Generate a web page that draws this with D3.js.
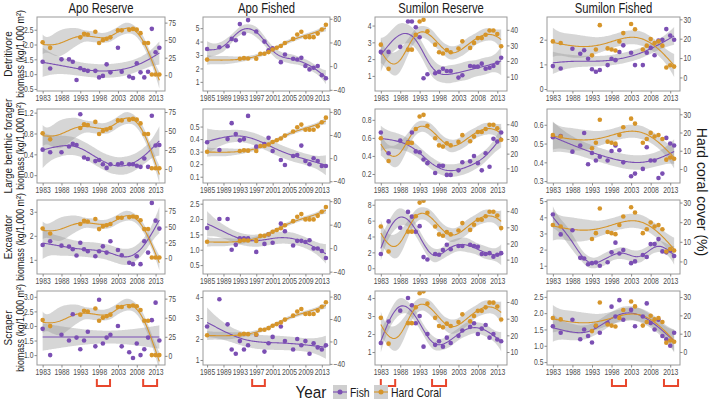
<!DOCTYPE html>
<html><head><meta charset="utf-8">
<script src="https://cdn.jsdelivr.net/npm/d3@7"></script>
<style>body{margin:0;background:#fff}svg{display:block}</style>
</head><body><svg id="c" width="709" height="401"></svg>
<script>
// ---------------- DATA ----------------
const siteNames = ["Apo Reserve","Apo Fished","Sumilon Reserve","Sumilon Fished"];
const guildLabels = ["Detritivore","Large benthic forager","Excavator","Scraper"];
const yearTicksStd = [1983,1988,1993,1998,2003,2008,2013];
const yearTicksApoF = [1985,1989,1993,1997,2001,2005,2009,2013];

const fishYears = [1983,1985,1988,1990,1991,1992,1993,1994,1995,1997,1998,1999,2000,2001,2003,2004,2006,2007,2008,2009,2010,2011,2012,2013,2014];
const fishYearsApoF = [1985,1988,1990,1991,1992,1993,1994,1995,1997,1999,2000,2001,2003,2004,2006,2007,2008,2009,2010,2011,2012,2013,2014];

const coralYearsApoR = [1983,1985,1993,1994,1995,1997,1998,1999,2000,2001,2003,2004,2006,2007,2008,2009,2010,2011,2012,2013,2014];
const coralApoR = [47,39,54,59,58,62,46,50,52,54,64,64,65,66,65,60,46,46,1,1,1];
const coralYearsApoF = [1985,1993,1994,1995,1997,1998,1999,2000,2001,2002,2003,2004,2006,2007,2008,2009,2010,2011,2012,2013,2014];
const coralApoF = [11,12.4,13.5,13,12.4,21,21,23.7,28,31,34,39,46,53.5,58,49,49,49,55,62,70];
const coralYearsSumR = [1983,1985,1990,1991,1992,1993,1994,1995,1997,1998,1999,2000,2001,2003,2004,2006,2007,2008,2009,2010,2011,2012,2013,2014];
const coralSumR = [30.5,15,27.3,27.3,36.8,45.3,46.4,39,30.5,25.6,24.8,27,25.6,28,32.6,28.4,31.6,34.7,34.7,36.8,39.6,39.6,37.3,29.5];
const coralYearsSumF = [1983,1985,1993,1994,1995,1997,1998,1999,2000,2001,2003,2004,2006,2007,2008,2009,2010,2011,2012,2013,2014];
const coralSumF = [18.6,17.8,11.4,14.4,27,15,14.4,13.9,18.6,22.9,27.6,24.9,14.4,16.4,19.8,17.8,18.6,16.4,5.1,6.3,5.6];

// fish biomass (kg/1,000 m2)
const detritivoreApoR = [1.42,1.19,1.5,1.5,1.42,0.8,1.2,1.14,1.11,1.11,0.89,0.94,1.33,1.06,1.89,1.08,0.92,0.87,1.37,1.06,0.89,1.08,2.53,1.74,1.89];
const detritivoreApoF = [3.45,3.58,3.65,4.2,4.1,5.3,4.6,5.6,4.75,4.0,3.35,3.5,2.47,3.04,2.72,2.67,2.79,2.18,1.93,2.05,2.18,1.49,1.27];
const detritivoreSumR = [2.43,2.43,2.73,4.24,4.24,3.9,3.3,0.86,1.1,1.16,1.24,1.43,1.29,1.29,0.9,1.04,1.59,1.55,1.55,1.73,1.43,1.49,1.59,1.78,2.08];
const detritivoreSumF = [0.93,0.83,1.63,1.43,1.57,1.23,0.8,0.7,0.77,0.97,1.23,1.17,1.5,1.77,1.47,0.97,0.97,1.47,1.67,1.37,1.97,2.0,2.43,2.17,2.0];

const foragerApoR = [0.49,0.44,0.44,0.55,0.6,0.58,1.17,0.34,0.31,0.27,0.29,0.21,0.14,0.21,0.21,0.23,0.21,0.21,0.18,0.16,0.32,0.16,1.14,0.57,0.58];
const foragerApoF = [0.375,0.313,0.40,0.527,0.44,0.39,0.40,0.585,0.34,0.36,0.41,0.305,0.233,0.193,0.265,0.273,0.348,0.225,0.20,0.247,0.225,0.185,0.185];
const foragerSumR = [0.66,0.43,0.57,0.55,0.66,0.45,0.44,0.36,0.32,0.21,0.29,0.29,0.19,0.19,0.24,0.33,0.34,0.40,0.32,0.24,0.43,0.28,0.59,0.56,0.66];
const foragerSumF = [0.534,0.54,0.457,0.49,0.556,0.39,0.45,0.41,0.43,0.41,0.46,0.49,0.464,0.40,0.326,0.34,0.365,0.48,0.41,0.41,0.317,0.34,0.53,0.5,0.49];

const excavatorApoR = [1.62,1.77,1.59,1.55,1.44,1.18,1.71,1.44,1.36,1.15,1.36,1.56,1.3,1.77,1.41,1.19,0.88,0.82,1.15,0.82,1.77,1.3,3.37,2.63,2.3];
const excavatorApoF = [1.71,2.0,2.0,1.0,1.16,1.37,1.37,1.37,0.93,1.19,1.5,1.23,1.85,1.6,1.14,1.29,1.29,1.25,1.31,1.04,1.04,0.96,0.73];
const excavatorSumR = [1.8,5.9,5.1,7.1,6.5,4.6,5.3,1.4,1.1,1.8,1.7,2.3,2.95,2.4,2.8,2.8,2.95,2.8,2.7,1.8,1.8,1.9,1.45,1.7,1.9];
const excavatorSumF = [4.17,2.94,3.2,1.49,1.45,1.09,1.16,1.2,1.0,1.22,1.83,2.43,1.76,1.98,1.16,1.27,1.67,1.54,2.34,2.34,2.65,1.89,1.83,1.94,1.6];

const scraperApoR = [1.9,1.0,1.7,1.5,2.4,1.6,1.2,1.5,1.8,1.3,2.9,1.4,1.6,1.7,2.0,1.3,1.1,0.9,1.4,1.0,1.2,1.6,2.2,2.8,1.5];
const scraperApoF = [2.6,3.9,2.7,1.5,1.3,1.9,1.5,1.7,2.2,1.4,1.8,2.1,2.6,1.9,1.5,2.0,1.7,1.9,1.3,1.8,1.6,1.5,1.7];
const scraperSumR = [1.5,2.7,3.3,4.0,3.6,2.6,3.0,1.3,2.0,1.4,1.6,1.3,1.8,1.5,1.9,2.2,2.4,2.6,2.0,2.3,2.5,1.8,2.0,1.7,1.6];
const scraperSumF = [1.6,1.4,1.8,1.2,1.5,1.3,1.1,1.6,1.4,1.7,2.2,1.9,2.4,1.8,2.1,1.6,1.9,2.3,1.7,1.5,1.8,1.3,1.2,1.0,1.4];

// axis ticks
const leftTicksDetritivore = [[0.5,1,1.5,2,2.5],[1,2,3,4,5],[1,2,3,4],[0,1,2]];
const leftTicksForager = [[0,0.4,0.8,1.2],[0.1,0.2,0.3,0.4,0.5],[0.2,0.4,0.6,0.8],[0.3,0.4,0.5,0.6]];
const leftTicksExcavator = [[1,2,3],[0.5,1,1.5,2,2.5],[0,2,4,6,8],[1,2,3,4,5]];
const leftTicksScraper = [[1,1.5,2,2.5,3],[1,2,3,4],[1,2,3,4],[0.5,1,1.5,2,2.5]];
const rightTicksBySite = [[0,25,50,75],[-40,0,40,80],[10,20,30,40],[0,10,20,30]];

// axis ranges
const leftDomainDetritivore = [[0.43,2.93],[0.32,5.83],[0.1,4.51],[-0.08,2.92]];
const leftDomainForager = [[-0.15,1.27],[0.05,0.64],[0.1,0.92],[0.29,0.684]];
const leftDomainExcavator = [[0.41,3.49],[0.21,2.62],[-0.73,8.6],[0.49,5.07]];
const leftDomainScraper = [[0.66,3.2],[0.76,4.29],[0.28,4.39],[0.41,2.68]];
const rightDomainDetritivore = [[-22.5,83],[-42,83],[0.8,48.2],[-7,31.2]];
const rightDomainForager = [[-18.5,79],[-43,85],[0,50.4],[-7.7,32.9]];
const rightDomainExcavator = [[-25,92],[-44,82],[1.1,46.9],[-6.4,31.3]];
const rightDomainScraper = [[-12,85],[-42,90],[2.2,46.6],[-7.1,33.3]];
const yearDomainBySite = [[1981.5,2015.5],[1984,2015],[1981.5,2015.5],[1981.5,2015.5]];

// disturbance periods marked under the bottom row
const eventsBySite = [[[1997.4,2000.9],[2009.7,2013.4]],[[1996,1999.1]],[[1983,1986.7],[1996.2,1999.8]],[[1998.1,2001.7],[2011.4,2015]]];

// ---------------- BUILD ----------------
const fishBy = [
  [detritivoreApoR,detritivoreApoF,detritivoreSumR,detritivoreSumF],
  [foragerApoR,foragerApoF,foragerSumR,foragerSumF],
  [excavatorApoR,excavatorApoF,excavatorSumR,excavatorSumF],
  [scraperApoR,scraperApoF,scraperSumR,scraperSumF]];
const fishYearsBySite = [fishYears,fishYearsApoF,fishYears,fishYears];
const coralYearsBySite = [coralYearsApoR,coralYearsApoF,coralYearsSumR,coralYearsSumF];
const coralBySite = [coralApoR,coralApoF,coralSumR,coralSumF];
const leftTicksBy = [leftTicksDetritivore,leftTicksForager,leftTicksExcavator,leftTicksScraper];
const leftDomainBy = [leftDomainDetritivore,leftDomainForager,leftDomainExcavator,leftDomainScraper];
const rightDomainBy = [rightDomainDetritivore,rightDomainForager,rightDomainExcavator,rightDomainScraper];
const yearTicksBySite = [yearTicksStd,yearTicksApoF,yearTicksStd,yearTicksStd];

// layout
const colLeft = [37,203,375,547], colRight = [165,330,507,680];
const rowTop = [17,109,200,291], PH = 74;
const PURPLE = "#7b4fb3", ORANGE = "#d6952a", FONT = "Liberation Sans, Arial, Helvetica, sans-serif";
const SQ = 0.8; // horizontal squeeze of the reference's lettering

// --- penalised cubic regression spline (REML), like a GAM smooth with SE band ---
function invMat(M){
  const n=M.length, A=M.map((r,i)=>r.concat(d3.range(n).map(j=>i===j?1:0)));
  let logdet=0;
  for(let c=0;c<n;c++){
    let p=c; for(let r=c+1;r<n;r++) if(Math.abs(A[r][c])>Math.abs(A[p][c])) p=r;
    [A[c],A[p]]=[A[p],A[c]];
    const v=A[c][c]; logdet+=Math.log(Math.abs(v));
    for(let j=0;j<2*n;j++) A[c][j]/=v;
    for(let r=0;r<n;r++) if(r!==c){const f=A[r][c]; if(f) for(let j=0;j<2*n;j++) A[r][j]-=f*A[c][j];}
  }
  const inv=A.map(r=>r.slice(n)); inv.logdet=logdet; return inv;
}
function smoothBand(xs, ys){
  const n=xs.length, deg=3, nseg=7, K=nseg+deg, Mp=2;
  const xl=d3.min(xs), xr=d3.max(xs), dx=(xr-xl)/nseg;
  const knots=d3.range(nseg+2*deg+1).map(j=>xl+dx*(j-deg));
  const basis=(x)=>{
    x=Math.min(Math.max(x,xl),xr-1e-9);
    let N=d3.range(knots.length-1).map(i=>(x>=knots[i]&&x<knots[i+1])?1:0);
    for(let d=1;d<=deg;d++){
      const M=[];
      for(let i=0;i<N.length-1;i++){
        const a=(x-knots[i])/(knots[i+d]-knots[i]), b=(knots[i+d+1]-x)/(knots[i+d+1]-knots[i+1]);
        M.push(a*N[i]+b*N[i+1]);
      }
      N=M;
    }
    return N;
  };
  const B=xs.map(basis);
  const BtB=d3.range(K).map(a=>d3.range(K).map(b=>d3.sum(B,r=>r[a]*r[b])));
  const Bty=d3.range(K).map(a=>d3.sum(B,(r,i)=>r[a]*ys[i]));
  const D=d3.range(K-2).map(i=>d3.range(K).map(j=>j===i?1:j===i+1?-2:j===i+2?1:0));
  const P=d3.range(K).map(a=>d3.range(K).map(b=>d3.sum(D,r=>r[a]*r[b])));
  let best=null;
  for(let ll=-1.5; ll<=6; ll+=0.05){
    const lam=Math.pow(10,ll);
    const A=BtB.map((r,a)=>r.map((v,b)=>v+lam*P[a][b]));
    const Ai=invMat(A);
    const beta=Ai.map(r=>d3.sum(r,(v,j)=>v*Bty[j]));
    let rss=0; B.forEach((r,i)=>{const f=d3.sum(r,(v,j)=>v*beta[j]); rss+=(ys[i]-f)**2;});
    let pen=0; for(let a=0;a<K;a++)for(let b=0;b<K;b++) pen+=beta[a]*P[a][b]*beta[b];
    pen*=lam;
    let tr=0; for(let a=0;a<K;a++)for(let b=0;b<K;b++) tr+=Ai[a][b]*BtB[b][a];
    const reml=(n-Mp)*Math.log(rss+pen) + Ai.logdet - (K-Mp)*Math.log(lam);
    if(!best||reml<best.reml) best={reml,Ai,beta,rss,tr};
  }
  const sigma2=best.rss/(n-best.tr), tq=2.05;
  return d3.range(121).map(i=>{
    const x=xl+(xr-xl)*i/120, b=basis(x);
    const f=d3.sum(b,(v,j)=>v*best.beta[j]);
    let q=0; for(let a=0;a<K;a++)for(let c=0;c<K;c++) q+=b[a]*best.Ai[a][c]*b[c];
    const se=Math.sqrt(Math.max(0,sigma2*q));
    return {x, y:f, lo:f-tq*se, hi:f+tq*se};
  });
}
function fmtTicks(ticks){
  return ticks.some(t=>!Number.isInteger(t)) ? d3.format(".1f") : d3.format("d");
}

const svg=d3.select("#c");
svg.append("rect").attr("width",709).attr("height",401).attr("fill","#fff");
const defs=svg.append("defs");

// column titles
siteNames.forEach((s,c)=>{
  svg.append("text").attr("transform",`translate(${(colLeft[c]+colRight[c])/2},13) scale(${SQ*0.97},1)`).attr("text-anchor","middle")
    .attr("font-family",FONT).attr("font-size",14.5).attr("fill","#1a1a1a").text(s);
});

for(let r=0;r<4;r++){
  const yc=rowTop[r]+PH/2;
  svg.append("text").attr("transform",`translate(12,${yc}) rotate(-90) scale(0.95,1)`).attr("text-anchor","middle")
    .attr("font-family",FONT).attr("font-size",10.5).attr("fill","#1a1a1a").text(guildLabels[r]);
  svg.append("text").attr("transform",`translate(23.5,${yc}) rotate(-90) scale(0.84,1)`).attr("text-anchor","middle")
    .attr("font-family",FONT).attr("font-size",10.5).attr("fill","#1a1a1a").text("biomass (kg/1,000 m²)");

  for(let c=0;c<4;c++){
    const x0=colLeft[c],x1=colRight[c],y0=rowTop[r],y1=rowTop[r]+PH;
    const xS=d3.scaleLinear().domain(yearDomainBySite[c]).range([x0,x1]);
    const yL=d3.scaleLinear().domain(leftDomainBy[r][c]).range([y1,y0]);
    const yR=d3.scaleLinear().domain(rightDomainBy[r][c]).range([y1,y0]);
    const g=svg.append("g");
    const cid=`clip${r}${c}`;
    defs.append("clipPath").attr("id",cid).append("rect").attr("x",x0).attr("y",y0).attr("width",x1-x0).attr("height",PH);

    const fishX=fishYearsBySite[c], fishY=fishBy[r][c];
    const corX=coralYearsBySite[c], corY=coralBySite[c];
    const fFit=smoothBand(fishX,fishY);
    const cFit=smoothBand(corX,corY);

    const pg=g.append("g").attr("clip-path",`url(#${cid})`);
    const area=(ys)=>d3.area().x(d=>xS(d.x)).y0(d=>ys(d.lo)).y1(d=>ys(d.hi));
    const line=(ys)=>d3.line().x(d=>xS(d.x)).y(d=>ys(d.y));
    pg.append("path").datum(fFit).attr("d",area(yL)).attr("fill","#999").attr("fill-opacity",0.4);
    pg.append("path").datum(cFit).attr("d",area(yR)).attr("fill","#999").attr("fill-opacity",0.4);
    pg.append("path").datum(fFit).attr("d",line(yL)).attr("fill","none").attr("stroke",PURPLE).attr("stroke-width",1.1);
    pg.append("path").datum(cFit).attr("d",line(yR)).attr("fill","none").attr("stroke",ORANGE).attr("stroke-width",1.1);
    pg.selectAll("circle.f").data(fishX.map((x,i)=>[x,fishY[i]])).join("circle").attr("class","f")
      .attr("cx",d=>xS(d[0])).attr("cy",d=>yL(d[1])).attr("r",2.3).attr("fill",PURPLE);
    pg.selectAll("circle.o").data(corX.map((x,i)=>[x,corY[i]])).join("circle").attr("class","o")
      .attr("cx",d=>xS(d[0])).attr("cy",d=>yR(d[1])).attr("r",2.3).attr("fill",ORANGE);

    g.append("rect").attr("x",x0).attr("y",y0).attr("width",x1-x0).attr("height",PH)
      .attr("fill","none").attr("stroke","#9a9a9a").attr("stroke-width",1);

    const style=(ax)=>{
      ax.select(".domain").remove();
      ax.selectAll(".tick line").attr("stroke","#8a8a8a");
      ax.selectAll(".tick text").attr("font-family",FONT).attr("font-size",8.5).attr("fill","#4d4d4d")
        .attr("transform",`scale(${SQ},1)`);
    };
    const lt=leftTicksBy[r][c];
    g.append("g").attr("transform",`translate(${x0},0)`)
      .call(d3.axisLeft(yL).tickValues(lt).tickFormat(fmtTicks(lt)).tickSize(2.5).tickPadding(2)).call(style);
    const rt=rightTicksBySite[c];
    g.append("g").attr("transform",`translate(${x1},0)`)
      .call(d3.axisRight(yR).tickValues(rt).tickFormat(d3.format("d")).tickSize(2.5).tickPadding(2)).call(style);
    g.append("g").attr("transform",`translate(0,${y1})`)
      .call(d3.axisBottom(xS).tickValues(yearTicksBySite[c]).tickFormat(d3.format("d")).tickSize(2.5).tickPadding(1.5)).call(style);

    if(r===3){
      eventsBySite[c].forEach(ev=>{
        g.append("path").attr("d",`M${xS(ev[0])},379V386H${xS(ev[1])}V379`)
          .attr("fill","none").attr("stroke","#e8472d").attr("stroke-width",2);
      });
    }
  }
}

// right title
svg.append("text").attr("transform","translate(697,192) rotate(90)").attr("text-anchor","middle")
  .attr("font-family",FONT).attr("font-size",14).attr("fill","#1a1a1a").text("Hard coral cover (%)");

// legend
const lg=svg.append("g");
lg.append("text").attr("transform","translate(311,398) scale(0.9,1)").attr("text-anchor","middle").attr("font-family",FONT)
  .attr("font-size",17).attr("fill","#1a1a1a").text("Year");
[[PURPLE,"Fish",333],[ORANGE,"Hard Coral",374]].forEach(([col,lab,x])=>{
  lg.append("rect").attr("x",x).attr("y",385).attr("width",14).attr("height",14).attr("fill","#cfcfcf");
  lg.append("line").attr("x1",x).attr("x2",x+14).attr("y1",392).attr("y2",392).attr("stroke",col).attr("stroke-width",1.1);
  lg.append("circle").attr("cx",x+7).attr("cy",392).attr("r",2.5).attr("fill",col);
  lg.append("text").attr("transform",`translate(${x+17},397) scale(${SQ},1)`).attr("font-family",FONT).attr("font-size",13).attr("fill","#1a1a1a").text(lab);
});
</script></body></html>
